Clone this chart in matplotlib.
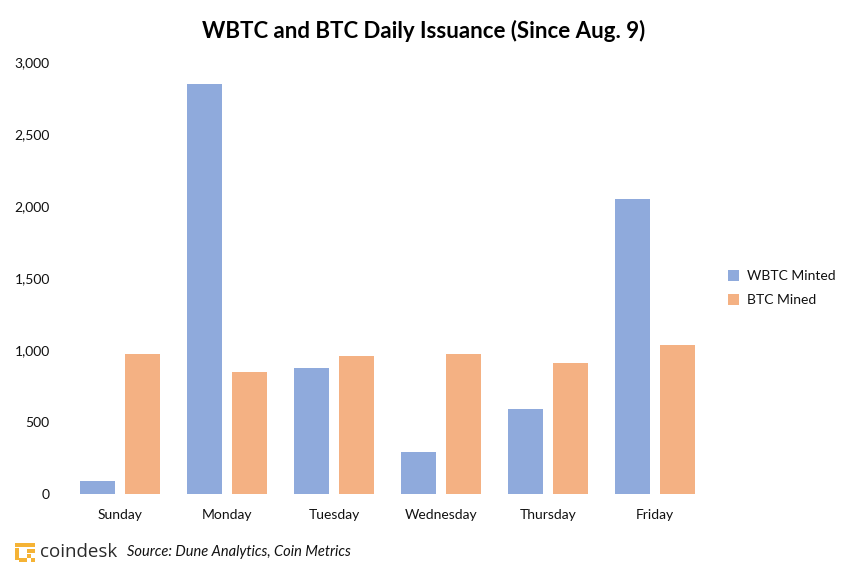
import numpy as np
import matplotlib
matplotlib.use("Agg")
import matplotlib.pyplot as plt
from matplotlib.patches import Rectangle

days = ["Sunday", "Monday", "Tuesday", "Wednesday", "Thursday", "Friday"]
wbtc_minted = [90, 2850, 875, 292, 590, 2050]
btc_mined = [975, 850, 960, 975, 910, 1035]
y_ticks = [0, 500, 1000, 1500, 2000, 2500, 3000]

plt.rcParams["font.family"] = ["Lato", "DejaVu Sans"]

W, H = 862, 582
fig = plt.figure(figsize=(W / 100, H / 100), dpi=100)
ax = fig.add_axes([66.5 / W, 1 - 494 / H, 642 / W, 432 / H])

x = np.arange(len(days))
bar_w = 35 / 107
off = 22.5 / 107
ax.bar(x - off, wbtc_minted, bar_w, color="#8faadc", label="WBTC Minted")
ax.bar(x + off, btc_mined, bar_w, color="#f4b183", label="BTC Mined")

ax.set_xlim(-0.5, len(days) - 0.5)
ax.set_ylim(0, 3000)
ax.set_xticks(x, days)
ax.set_yticks(y_ticks, [f"{v:,}" for v in y_ticks])
ax.tick_params(length=0, labelsize=10, labelcolor="#111111")
ax.tick_params(axis="x", pad=11)
ax.tick_params(axis="y", pad=12)
for s in ax.spines.values():
    s.set_visible(False)

fig.text(424 / W, 1 - 31 / H, "WBTC and BTC Daily Issuance (Since Aug. 9)",
         ha="center", va="center", fontsize=16, fontweight="bold", color="black")

ax.legend(loc="center left", bbox_to_anchor=(728 / W, 1 - 288 / H),
          bbox_transform=fig.transFigure, frameon=False, fontsize=10,
          handlelength=0.8, handleheight=0.8, handletextpad=0.6, labelspacing=0.85,
          borderpad=0, borderaxespad=0, labelcolor="#111111")

# coindesk logo
logo = "#f5b335"
for lx, ly in [(17, 545), (21, 545), (25, 545), (29, 545), (33, 545),
               (17, 550), (17, 554), (17, 558), (21, 560), (25, 560),
               (29, 551), (33, 551), (29, 556), (33, 560)]:
    fig.add_artist(Rectangle((lx / W - 1.5 / W, 1 - ly / H - 1.5 / H), 3.2 / W, 3.2 / H,
                             transform=fig.transFigure, color=logo, lw=0))
fig.text(40 / W, 1 - 552 / H, "coindesk", ha="left", va="center",
         fontsize=13.5, color="#2b2b2b", family=["Open Sans", "DejaVu Sans"])
fig.text(127 / W, 1 - 552 / H, "Source: Dune Analytics, Coin Metrics", ha="left", va="center",
         fontsize=10.5, style="italic", color="#111111")

fig.savefig("out.png", dpi=100)
